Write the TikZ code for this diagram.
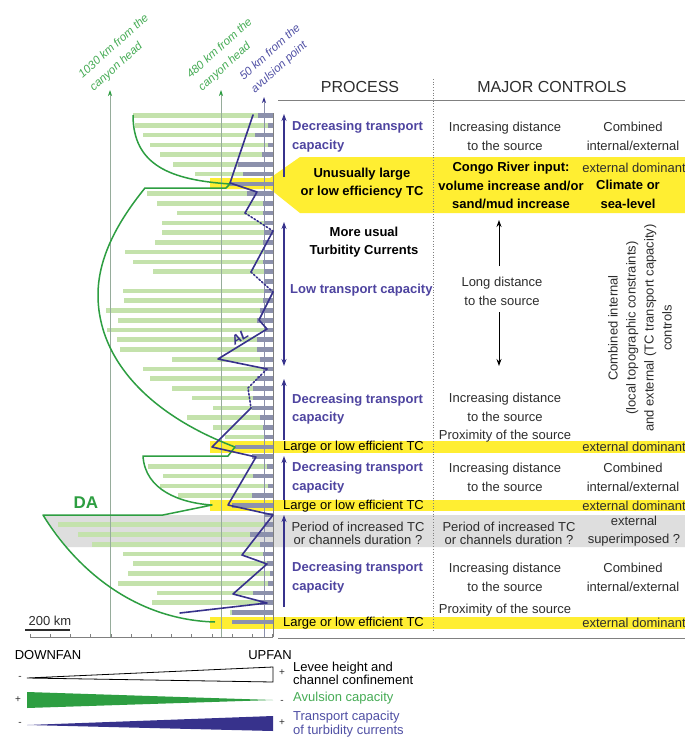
\documentclass[tikz,border=0pt]{standalone}
\usepackage{fontspec}
\setmainfont{Liberation Sans}
\usetikzlibrary{arrows.meta}
\definecolor{dagreen}{RGB}{45,158,65}
\definecolor{bargreen}{RGB}{196,226,172}
\definecolor{bargray}{RGB}{140,145,172}
\definecolor{navy}{RGB}{55,50,140}
\definecolor{navytext}{RGB}{78,68,160}
\definecolor{yellowC}{RGB}{255,238,50}
\definecolor{grayband}{RGB}{222,222,222}
\definecolor{vlinec}{RGB}{150,172,155}
\definecolor{textgray}{RGB}{45,45,45}
\definecolor{lblgreen}{RGB}{70,172,85}
\definecolor{lblblue}{RGB}{80,80,165}
\begin{document}
\begin{tikzpicture}[x=1pt,y=-1pt,
  txt/.style={font=\fontsize{13}{18.5}\selectfont, text=textgray, align=center, inner sep=0pt},
  bltxt/.style={font=\fontsize{13}{18.5}\selectfont\bfseries, text=black, align=center, inner sep=0pt},
  btxt/.style={font=\fontsize{13}{18.5}\selectfont\bfseries, text=navytext, align=left, anchor=west, inner sep=0pt},
  gtxt/.style={font=\fontsize{13}{13.5}\selectfont, text=textgray, align=center, inner sep=0pt},
  toplbl/.style={font=\fontsize{11.5}{17}\selectfont\itshape, align=left, inner sep=0pt, rotate=42},
  barg/.style={bargreen, line width=4.6pt},
  barb/.style={bargray, line width=4.6pt},
  vl/.style={vlinec, line width=0.7pt},
  barrow/.style={navy, line width=1.1pt, -{Stealth[length=7pt,width=5pt]}},
  bdarrow/.style={navy, line width=1.1pt, {Stealth[length=7pt,width=5pt]}-{Stealth[length=7pt,width=5pt]}},
  karrow/.style={black, line width=0.9pt, -{Stealth[length=7pt,width=5pt]}},
  sgn/.style={font=\fontsize{10}{10}\selectfont, text=textgray, inner sep=0pt},
  lgtxt/.style={font=\fontsize{13}{13.3}\selectfont, align=left, anchor=west, inner sep=0pt}
]
\useasboundingbox[fill=white] (0,0) rectangle (685,742);

% gray band
\fill[grayband] (43,515) -- (67,547) -- (685,547) -- (685,515) -- cycle;
% yellow bands
\fill[yellowC] (210,178) -- (270,178) -- (300,157) -- (685,157) -- (685,213) -- (300,213) -- (270,189) -- (210,189) -- cycle;
\fill[yellowC] (210,441) rectangle (685,453);
\fill[yellowC] (210,500) rectangle (685,511);
\fill[yellowC] (210,617) rectangle (685,629);

% bars
\foreach \k/\xl/\xg in {0/133/258,1/135/268,2/143/255,3/150/268,4/160/262,5/173/238,6/195/243,7/273/230,
  8/147/247,9/157/263,10/177/263,11/162/265,12/162/265,13/155/263,14/125/265,15/133/263,16/153/265,17/273/265,
  18/123/265,19/124/263,20/106/260,21/118/257,22/107/265,23/117/257,24/120/257,25/172/260,26/143/263,27/150/257,
  28/172/253,29/192/253,30/213/252,31/187/260,32/213/263,33/225/265,34/273/235,35/273/252,36/148/267,37/163/253,
  38/160/268,39/178/252,40/273/232,41/273/265,42/58/265,43/78/250,44/92/260,45/123/263,46/133/267,47/128/270,
  48/118/268,49/157/253,50/152/260,51/230/232,52/273/232}{
  \pgfmathsetmacro\yy{115.7+9.74*\k}
  \draw[barg] (\xl,\yy) -- (273,\yy);
  \draw[barb] (\xg,\yy) -- (273,\yy);
}

% vertical reference lines
\coordinate (v1b) at (110,637); \coordinate (v1t) at (110,90);
\coordinate (v2b) at (221,637); \coordinate (v2t) at (221,90);
\coordinate (v3b) at (264,637); \coordinate (v3t) at (264,97);
\coordinate (v4b) at (273,637); \coordinate (v4t) at (273,113);
\draw[vl, arrows={-{Stealth[length=6pt,width=4pt,color=dagreen]}}] (v1b) -- (v1t);
\draw[vl, arrows={-{Stealth[length=6pt,width=4pt,color=dagreen]}}] (v2b) -- (v2t);
\draw[bargray, line width=0.8pt, arrows={-{Stealth[length=6pt,width=4pt,color=navy]}}] (v3b) -- (v3t);
\draw[gray, line width=0.8pt] (v4b) -- (v4t);

% axis
\coordinate (ax0) at (30,637); \coordinate (ax1) at (273,637);
\draw[gray, line width=0.8pt] (ax0) -- (ax1);
\foreach \i in {0,...,12}{ \draw[gray, line width=0.6pt] ({30+20.2*\i},637) -- ({30+20.2*\i},633.5); }

% DA curves
\draw[dagreen, line width=1.5pt, line join=round]
  (133,115) .. controls (133,165) and (170,180) .. (230,184) -- (226,188) -- (145,188)
  .. controls (115,225) and (98,260) .. (98,295)
  .. controls (98,360) and (150,415) .. (235,447) -- (228,456) -- (143,456)
  .. controls (145,490) and (180,503) .. (212,505) -- (163,515) -- (43,515)
  .. controls (80,575) and (140,620) .. (215,622);
\node[font=\fontsize{17}{17}\selectfont\bfseries, text=dagreen] (da) at (86,503) {DA};

% AL line
\begin{scope}[navy, line width=1.6pt, line join=round, line cap=round]
\draw (253,115) -- (230,183) -- (257,192) -- (245,213);
\draw[dotted] (245,213) -- (273,231);
\draw (273,231) -- (251,272);
\draw[dotted] (251,272) -- (273,292);
\draw (273,292) -- (259,320) -- (267,329) -- (218,359) -- (267,369);
\draw[dotted] (267,369) -- (248,388) -- (251,408);
\draw (251,408) -- (212,447) -- (256,457) -- (228,505) -- (273,515) -- (242,555) -- (267,564) -- (233,594) -- (267,603) -- (180,613);
\end{scope}
\node[font=\fontsize{13}{13}\selectfont\bfseries\itshape, text=navy, rotate=31.5] (al) at (240,337) {AL};

% scale bar
\node[font=\fontsize{13}{13}\selectfont, text=textgray] (sc) at (50,621) {200 km};
\coordinate (sb0) at (25,630); \coordinate (sb1) at (70,630);
\draw[textgray, line width=1.6pt] (sb0) -- (sb1);

% top labels
\node[toplbl, text=lblgreen] (l1) at (119.5,53) {1030 km from the\\canyon head};
\node[toplbl, text=lblgreen] (l2) at (225.5,55) {480 km from the\\canyon head};
\node[toplbl, text=lblblue] (l3) at (276,59) {50 km from the\\avulsion point};

% table frame
\coordinate (hl0) at (278,100.5); \coordinate (hl1) at (685,100.5);
\coordinate (bl0) at (278,638); \coordinate (bl1) at (685,638);
\coordinate (dv0) at (433,79); \coordinate (dv1) at (433,630);
\draw[gray, line width=0.9pt] (hl0) -- (hl1);
\draw[gray, line width=0.9pt] (bl0) -- (bl1);
\draw[gray, line width=0.7pt, dotted] (dv0) -- (dv1);
\node[font=\fontsize{16}{18}\selectfont, text=textgray] (h1) at (360,87) {PROCESS};
\node[font=\fontsize{16}{18}\selectfont, text=textgray] (h2) at (552,87) {MAJOR CONTROLS};

% arrows in process column
\coordinate (a1s) at (284,177); \coordinate (a1e) at (284,114);
\coordinate (a2s) at (284,222); \coordinate (a2e) at (284,366);
\coordinate (a3s) at (284,440); \coordinate (a3e) at (284,379);
\coordinate (a4s) at (284,500); \coordinate (a4e) at (284,456);
\coordinate (a5s) at (284,607); \coordinate (a5e) at (284,515);
\draw[barrow] (a1s) -- (a1e);
\draw[bdarrow] (a2s) -- (a2e);
\draw[barrow] (a3s) -- (a3e);
\draw[barrow] (a4s) -- (a4e);
\draw[barrow] (a5s) -- (a5e);
\coordinate (k1s) at (499,266); \coordinate (k1e) at (499,220);
\coordinate (k2s) at (499,312); \coordinate (k2e) at (499,366);
\draw[karrow] (k1s) -- (k1e);
\draw[karrow] (k2s) -- (k2e);

% row A
\node[btxt] (p1) at (292,136.5) {Decreasing transport\\capacity};
\node[txt] (c1) at (505,136.5) {Increasing distance\\to the source};
\node[txt] (m1) at (633,136.5) {Combined\\internal/external};
% yellow row
\node[bltxt] (p2) at (362,183) {Unusually large\\or low efficiency TC};
\node[bltxt] (c2) at (511,185.5) {Congo River input:\\volume increase and/or\\sand/mud increase};
\node[txt] (m2a) at (634,168) {external dominant};
\node[bltxt] (m2b) at (628,194.5) {Climate or\\sea-level};
% row B
\node[bltxt] (p3) at (364,242) {More usual\\Turbitity Currents};
\node[btxt] (p4) at (290,290) {Low transport capacity};
\node[txt] (c3) at (502,291.5) {Long distance\\to the source};
\node[txt, rotate=90, font=\fontsize{13}{18}\selectfont] (m3) at (640,328) {Combined internal\\(local topographic constraints)\\and external (TC transport capacity)\\controls};
% row C
\node[btxt] (p5) at (292,409) {Decreasing transport\\capacity};
\node[txt] (c5) at (505,418) {Increasing distance\\to the source\\Proximity of the source};
\node[txt, anchor=west, text=black] (y2a) at (283,447) {Large or low efficient TC};
\node[txt] (y2b) at (634,447) {external dominant};
% row D
\node[btxt] (p6) at (292,477.5) {Decreasing transport\\capacity};
\node[txt] (c6) at (505,477.5) {Increasing distance\\to the source};
\node[txt] (m6) at (633,477.5) {Combined\\internal/external};
\node[txt, anchor=west, text=black] (y3a) at (283,506) {Large or low efficient TC};
\node[txt] (y3b) at (634,506) {external dominant};
% gray row
\node[gtxt] (g1) at (358,533.5) {Period of increased TC\\or channels duration ?};
\node[gtxt] (g2) at (509,533.5) {Period of increased TC\\or channels duration ?};
\node[txt] (g3) at (634,531) {external\\superimposed ?};
% row E
\node[btxt] (p7) at (292,577.5) {Decreasing transport\\capacity};
\node[txt] (c7) at (505,577.5) {Increasing distance\\to the source};
\node[txt] (m7) at (633,577.5) {Combined\\internal/external};
\node[txt] (c7b) at (505,610) {Proximity of the source};
\node[txt, anchor=west, text=black] (y4a) at (283,623) {Large or low efficient TC};
\node[txt] (y4b) at (634,623) {external dominant};

% legend
\node[font=\fontsize{13}{13}\selectfont, text=black] (dn) at (48,655) {DOWNFAN};
\node[font=\fontsize{13}{13}\selectfont, text=black] (up) at (270,655) {UPFAN};
\filldraw[fill=white, draw=black, line width=0.8pt] (27,678) -- (273,667) -- (273,682) -- cycle;
\fill[dagreen] (27,692) -- (273,700) -- (27,708) -- cycle;
\fill[navy] (27,725) -- (273,716) -- (273,731) -- cycle;
\node[sgn] (s1) at (20,678) {-};
\node[sgn] (s2) at (282,673) {+};
\node[sgn] (s3) at (18,700) {+};
\node[sgn] (s4) at (282,702) {-};
\node[sgn] (s5) at (20,724) {-};
\node[sgn] (s6) at (282,723) {+};
\node[lgtxt, text=black] (lg1) at (293,673.5) {Levee height and\\channel confinement};
\node[lgtxt, text=lblgreen] (lg2) at (293,698) {Avulsion capacity};
\node[lgtxt, text=lblblue] (lg3) at (293,724) {Transport capacity\\of turbidity currents};
\end{tikzpicture}
\end{document}
